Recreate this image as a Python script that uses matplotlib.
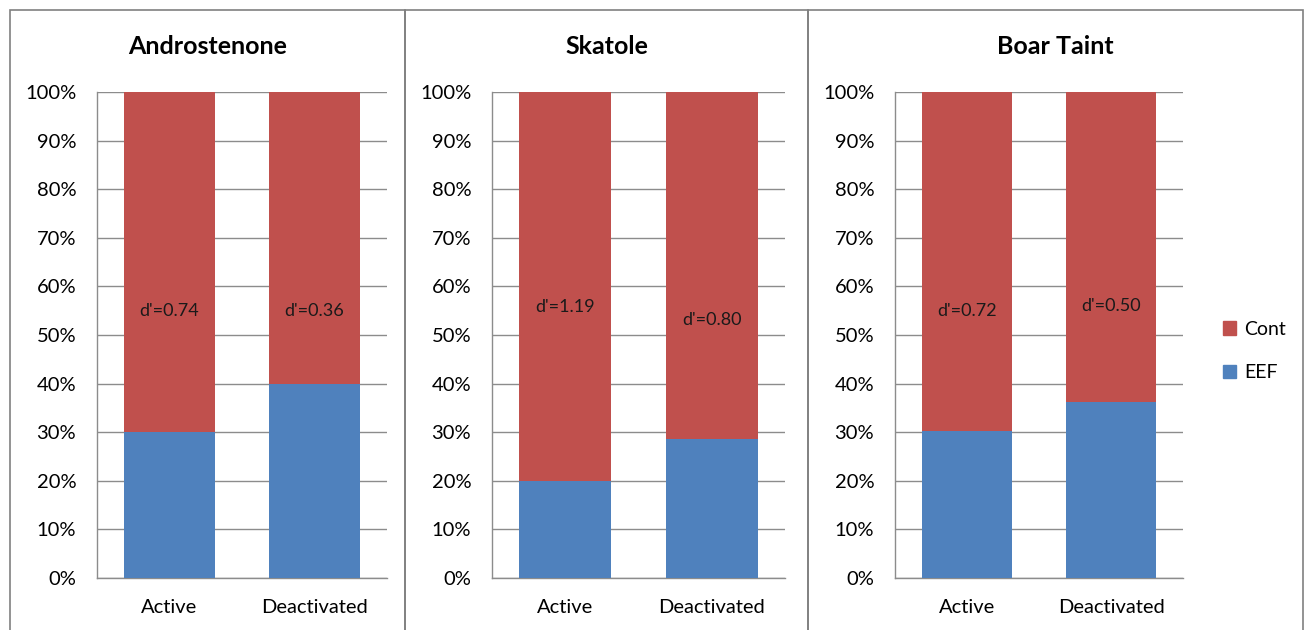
import matplotlib
matplotlib.use('Agg')
import numpy as np
import matplotlib.pyplot as plt
from matplotlib.patches import Rectangle, Patch

plt.rcParams['font.family'] = ['Lato', 'DejaVu Sans']

# data
panels = ['Androstenone', 'Skatole', 'Boar Taint']
groups = ['Active', 'Deactivated']
eef = {
    'Androstenone': [30.0, 40.0],
    'Skatole': [20.0, 28.5],
    'Boar Taint': [30.3, 36.2],
}
dprime = {
    'Androstenone': ["d'=0.74", "d'=0.36"],
    'Skatole': ["d'=1.19", "d'=0.80"],
    'Boar Taint': ["d'=0.72", "d'=0.50"],
}
label_y = {
    'Androstenone': [55.0, 55.0],
    'Skatole': [55.8, 53.0],
    'Boar Taint': [55.0, 56.0],
}

red = '#C0504D'
blue = '#4F81BD'
grid_col = '#8C8C8C'

W, H = 1305, 630
fig = plt.figure(figsize=(W / 100, H / 100), dpi=100)

# panel frames (left, right) in pixels, and plot areas
frames = [(10, 405), (405, 808), (808, 1303)]
plot_x = [(97, 387), (492, 785), (895, 1183)]
y_top, y_bot = 92, 578

for (fl, fr) in frames:
    fig.patches.append(Rectangle((fl / W, -0.05), (fr - fl) / W, (H - 10) / H + 0.05,
                                 transform=fig.transFigure, fill=False,
                                 edgecolor='#808080', linewidth=1.2))

for i, name in enumerate(panels):
    l, r = plot_x[i]
    ax = fig.add_axes([l / W, (H - y_bot) / H, (r - l) / W, (y_bot - y_top) / H])
    x = np.arange(len(groups))
    lo = np.array(eef[name])
    hi = 100 - lo
    ax.bar(x, lo, width=0.63, color=blue, zorder=3)
    ax.bar(x, hi, bottom=lo, width=0.63, color=red, zorder=3)
    for j in range(len(groups)):
        ax.text(x[j], label_y[name][j], dprime[name][j], ha='center', va='center',
                fontsize=13, color='#1a1a1a', zorder=4)
    ax.set_xlim(-0.5, 1.5)
    ax.set_ylim(0, 100)
    ax.set_yticks(np.arange(0, 101, 10))
    ax.set_yticklabels([f'{v}%' for v in range(0, 101, 10)])
    ax.set_xticks(x)
    ax.set_xticklabels(groups)
    ax.tick_params(axis='y', length=0, pad=15, labelsize=14.5)
    ax.tick_params(axis='x', length=0, pad=15, labelsize=14.5)
    ax.yaxis.grid(True, color=grid_col, linewidth=1.0, zorder=0)
    ax.set_axisbelow(True)
    for s in ['top', 'right']:
        ax.spines[s].set_visible(False)
    for s in ['left', 'bottom']:
        ax.spines[s].set_color(grid_col)
        ax.spines[s].set_linewidth(1.0)
    fl, fr = frames[i]
    fig.text((fl + fr) / 2 / W, 1 - 47 / H, name, ha='center', va='center',
             fontsize=18, fontweight='bold')

handles = [Patch(color=red, label='Cont'), Patch(color=blue, label='EEF')]
fig.legend(handles=handles, loc='center left', bbox_to_anchor=(1205 / W, 1 - 351 / H),
           frameon=False, fontsize=14, handlelength=0.7, handleheight=0.7,
           handletextpad=0.4, labelspacing=1.35)

fig.savefig('out.png', dpi=100, facecolor='white')
